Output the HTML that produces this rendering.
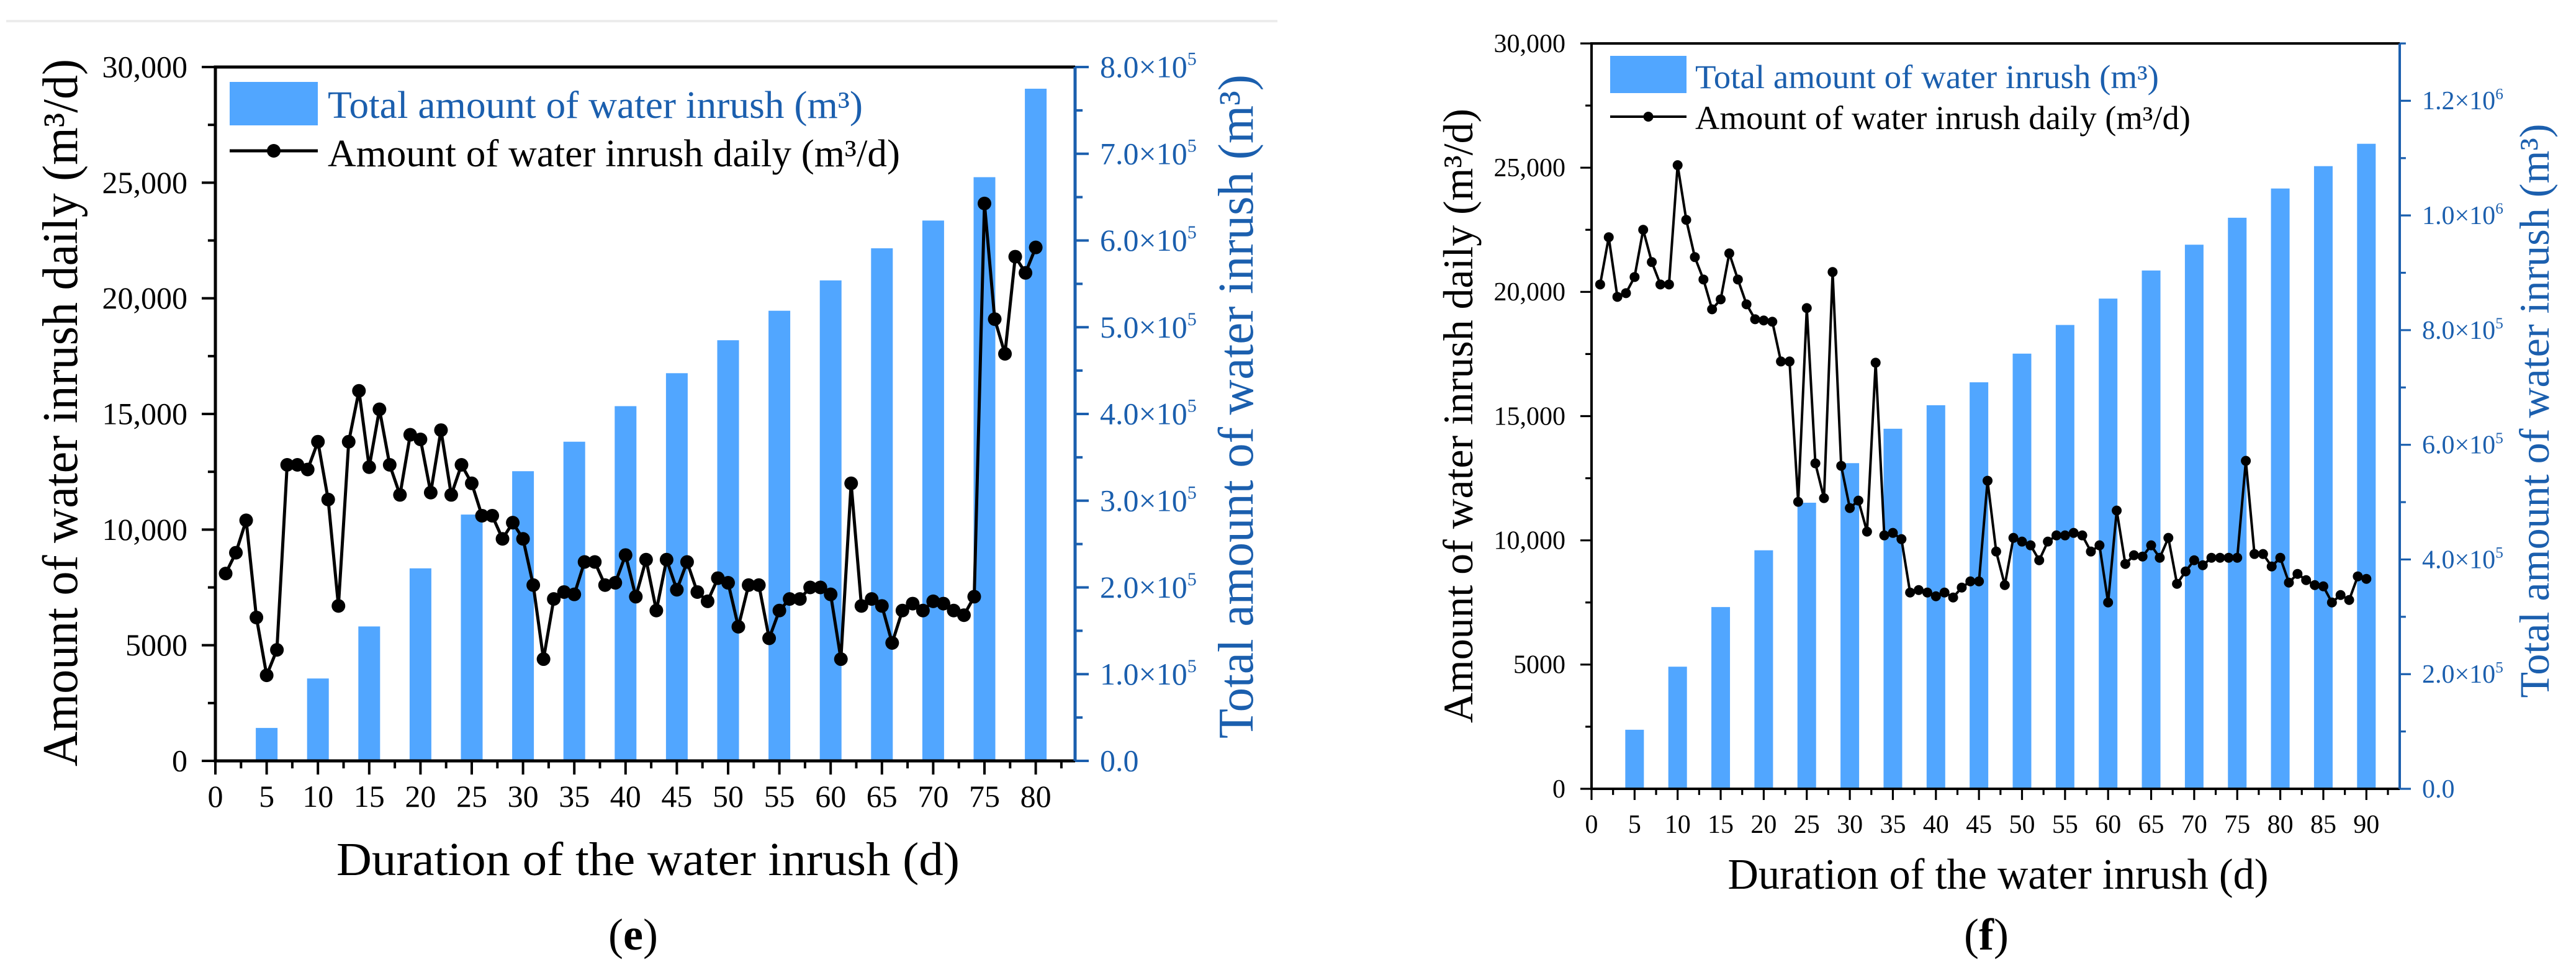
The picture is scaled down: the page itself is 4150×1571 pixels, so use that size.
<!DOCTYPE html>
<html><head><meta charset="utf-8">
<style>
html,body{margin:0;padding:0;background:#fff;}
svg{display:block;font-family:"Liberation Serif",serif;}
svg text{font-family:"Liberation Serif",serif;}
</style></head>
<body>
<svg id="root" width="4150" height="1571" viewBox="0 0 4150 1571" xmlns="http://www.w3.org/2000/svg" font-family="Liberation Serif, serif">
<line x1="10" y1="34" x2="2058" y2="34" stroke="#ececec" stroke-width="4"/>
</svg>
<script>
// ---- Chart (e) data ----
const eDaily = [8100,9000,10400,6200,3700,4800,12800,12800,12600,13800,11300,6700,13800,16000,12700,15200,12800,11500,14100,13900,11600,14300,11500,12800,12000,10600,10600,9600,10300,9600,7600,4400,7000,7300,7200,8600,8600,7600,7700,8900,7100,8700,6500,8700,7400,8600,7300,6900,7900,7700,5800,7600,7600,5300,6500,7000,7000,7500,7500,7200,4400,12000,6700,7000,6700,5100,6500,6800,6500,6900,6800,6500,6300,7100,24100,19100,17600,21800,21100,22200];
const eBarDays = [5,10,15,20,25,30,35,40,45,50,55,60,65,70,75,80];
const eBarTotals = [38000,95000,155000,222000,284000,334000,368000,409000,447000,485000,519000,554000,591000,623000,673000,775000];
const eXTicks = [0,5,10,15,20,25,30,35,40,45,50,55,60,65,70,75,80];
const eYTicks = [0,5000,10000,15000,20000,25000,30000];
const eYLabels = ["0","5000","10,000","15,000","20,000","25,000","30,000"];
const eRTicks = [0,1,2,3,4,5,6,7,8];
const eRLabels = ["0.0","1.0","2.0","3.0","4.0","5.0","6.0","7.0","8.0"];
const eRExp = ["","5","5","5","5","5","5","5","5"];
// ---- Chart (f) data ----
const fDaily = [20300,22200,19800,19950,20600,22500,21200,20300,20300,25100,22900,21400,20500,19300,19700,21550,20500,19500,18900,18850,18800,17200,17200,11550,19350,13100,11700,20800,13000,11300,11600,10350,17150,10200,10300,10050,7900,8000,7900,7750,7900,7700,8100,8350,8350,12400,9550,8200,10100,9950,9800,9200,9950,10200,10200,10300,10200,9550,9800,7500,11200,9050,9400,9350,9800,9300,10100,8250,8750,9200,9000,9300,9300,9300,9300,13200,9450,9450,8950,9300,8300,8650,8400,8200,8150,7500,7800,7600,8550,8450];
const fBarDays = [5,10,15,20,25,30,35,40,45,50,55,60,65,70,75,80,85,90];
const fBarTotals = [103000,213000,317000,416000,499000,568000,628000,669000,709000,759000,809000,855000,904000,949000,996000,1047000,1086000,1125000];
const fXTicks = [0,5,10,15,20,25,30,35,40,45,50,55,60,65,70,75,80,85,90];
const fYTicks = [0,5000,10000,15000,20000,25000,30000];
const fYLabels = ["0","5000","10,000","15,000","20,000","25,000","30,000"];
const fRTicks = [0,2,4,6,8,10,12];
const fRLabels = ["0.0","2.0","4.0","6.0","8.0","1.0","1.2"];
const fRExp = ["","5","5","5","5","6","6"];

const NS = "http://www.w3.org/2000/svg";
const FONT = '"Liberation Serif", serif';
const root = document.getElementById('root');
function mk(tag, attrs, parent){
  const el = document.createElementNS(NS, tag);
  for (const k in attrs) el.setAttribute(k, attrs[k]);
  if (tag === 'text') el.style.fontFamily = FONT;
  (parent||root).appendChild(el);
  return el;
}

function drawChart(c){
  const g = mk('g', {});
  
  
  const xs = d => c.x0 + d * c.dx;
  const yl = v => c.yb - (v / c.yMax) * (c.yb - c.yt);
  const yr = v => c.yb - (v / c.rMax) * (c.yb - c.yt);
  const BLUE = '#1b5fae', BAR = '#51a6ff';
  c.barDays.forEach((d, i) => {
    const y = yr(c.barTotals[i]);
    const r = mk('rect', {x: xs(d) - c.bw/2, y: y, width: c.bw, height: c.yb - y, fill: BAR}, g);
    
    
  });
  const ax = mk('g', {}, g);
  
  
  mk('line', {x1: c.x0, y1: c.yt, x2: c.x0, y2: c.yb, stroke: '#000', 'stroke-width': c.aw}, ax);
  mk('line', {x1: c.x0 - c.aw/2, y1: c.yb, x2: c.xr, y2: c.yb, stroke: '#000', 'stroke-width': c.aw}, ax);
  mk('line', {x1: c.x0 - c.aw/2, y1: c.yt, x2: c.xr, y2: c.yt, stroke: '#000', 'stroke-width': c.aw}, ax);
  mk('line', {x1: c.xr, y1: c.yt, x2: c.xr, y2: c.yb, stroke: BLUE, 'stroke-width': c.aw}, ax);
  for (let d = 0; d <= c.xMaxTick + 0.1; d += 2.5) {
    const maj = Math.abs(d % 5) < 0.01;
    mk('line', {x1: xs(d), y1: c.yb, x2: xs(d), y2: c.yb + (maj ? c.tl : c.tl*0.55), stroke: '#000', 'stroke-width': c.aw*0.8}, ax);
  }
  c.xTicks.forEach(d => {
    const t = mk('text', {x: xs(d), y: c.xLabY, 'text-anchor': 'middle', 'font-size': c.tfs, fill: '#000'}, ax);
    t.textContent = d;
    
    
  });
  for (let v = 0; v <= c.yMax; v += 2500) {
    const maj = v % 5000 === 0;
    mk('line', {x1: c.x0, y1: yl(v), x2: c.x0 - (maj ? c.tl : c.tl*0.55), y2: yl(v), stroke: '#000', 'stroke-width': c.aw*0.8}, ax);
  }
  c.yTicks.forEach((v, i) => {
    const t = mk('text', {x: c.yLabX, y: yl(v) + c.tfs*0.33, 'text-anchor': 'end', 'font-size': c.tfs, fill: '#000'}, ax);
    t.textContent = c.yLabels[i];
    
    
  });
  for (let k = 0; k <= c.rMinorMax; k++) {
    const v = k * c.rMinor;
    if (v > c.rMax) break;
    const maj = k % 2 === 0;
    mk('line', {x1: c.xr, y1: yr(v), x2: c.xr + (maj ? c.tl : c.tl*0.55), y2: yr(v), stroke: BLUE, 'stroke-width': c.aw*0.8}, ax);
  }
  c.rTicks.forEach((k, i) => {
    const v = k * 1e5;
    const t = mk('text', {x: c.rLabX, y: yr(v) + c.tfs*0.33, 'font-size': c.tfs, fill: BLUE}, ax);
    
    
    if (c.rExp[i]) {
      t.appendChild(document.createTextNode(c.rLabels[i] + '\u00d710'));
      const s = mk('tspan', {dy: -c.tfs*0.4, 'font-size': c.tfs*0.6}, t);
      s.textContent = c.rExp[i];
    } else {
      t.textContent = c.rLabels[i];
    }
  });
  const pts = c.daily.map((v, i) => xs(i + 1).toFixed(1) + ',' + yl(v).toFixed(1)).join(' ');
  const pl = mk('polyline', {points: pts, fill: 'none', stroke: '#000', 'stroke-width': c.lw, 'stroke-linejoin': 'round'}, g);
  
  
  c.daily.forEach((v, i) => {
    const p = mk('circle', {cx: xs(i + 1), cy: yl(v), r: c.dr, fill: '#000'}, g);
    
    
  });
  const lt = mk('text', {x: 0, y: 0, transform: `translate(${c.ltX},${c.ltY}) rotate(-90)`, 'text-anchor': 'middle', 'font-size': c.lfs, fill: '#000', textLength: c.ltLen, lengthAdjust: 'spacingAndGlyphs'}, g);
  lt.textContent = 'Amount of water inrush daily (m\u00b3/d)';
  
  
  const rt = mk('text', {x: 0, y: 0, transform: `translate(${c.rtX},${c.rtY}) rotate(-90)`, 'text-anchor': 'middle', 'font-size': c.lfs, fill: BLUE, textLength: c.rtLen, lengthAdjust: 'spacingAndGlyphs'}, g);
  rt.textContent = 'Total amount of water inrush (m\u00b3)';
  
  
  const xt = mk('text', {x: c.xtX, y: c.xtY, 'text-anchor': 'middle', 'font-size': c.xfs, fill: '#000', textLength: c.xtLen, lengthAdjust: 'spacingAndGlyphs'}, g);
  xt.textContent = 'Duration of the water inrush (d)';
  
  
  const pn = mk('text', {x: c.pX, y: c.pY, 'text-anchor': 'middle', 'font-size': 72, fill: '#000'}, g);
  
  
  pn.appendChild(document.createTextNode('('));
  const b = mk('tspan', {'font-weight': 'bold'}, pn); b.textContent = c.id;
  pn.appendChild(document.createTextNode(')'));
  const lg = mk('g', {}, g);
  
  
  const lr = mk('rect', {x: c.lgX, y: c.lgY1, width: c.lgW, height: c.lgH, fill: BAR}, lg);
  
  
  const l1 = mk('text', {x: c.lgTX, y: c.lgB1, 'font-size': c.gfs, fill: BLUE, textLength: c.lgL1, lengthAdjust: 'spacingAndGlyphs'}, lg);
  l1.textContent = 'Total amount of water inrush (m\u00b3)';
  
  
  mk('line', {x1: c.lgX, y1: c.lgY2, x2: c.lgX + c.lgW, y2: c.lgY2, stroke: '#000', 'stroke-width': c.lw}, lg);
  mk('circle', {cx: c.lgX + c.lgW/2, cy: c.lgY2, r: c.dr, fill: '#000'}, lg);
  const l2 = mk('text', {x: c.lgTX, y: c.lgB2, 'font-size': c.gfs, fill: '#000', textLength: c.lgL2, lengthAdjust: 'spacingAndGlyphs'}, lg);
  l2.textContent = 'Amount of water inrush daily (m\u00b3/d)';
  
  
}

drawChart({id:'e', daily:eDaily, barDays:eBarDays, barTotals:eBarTotals, xTicks:eXTicks, yTicks:eYTicks, yLabels:eYLabels, rTicks:eRTicks, rLabels:eRLabels, rExp:eRExp,
  x0:347, xr:1732, dx:16.52, xMaxTick:82.5, yt:108, yb:1226, yMax:30000, rMax:800000, rMinor:50000, rMinorMax:16,
  bw:35, aw:5, tl:22, lw:5, dr:11, tfs:50, xLabY:1300, yLabX:302, rLabX:1772,
  lfs:80, ltX:124, ltY:665, ltLen:1140, rtX:2018, rtY:655, rtLen:1070, xfs:76, xtX:1044, xtY:1410, xtLen:1004, pX:1020, pY:1530,
  lgX:370, lgW:142, lgY1:132, lgH:70, lgY2:243, lgTX:528, lgB1:190, lgB2:268, lgL1:862, lgL2:922, gfs:62});
drawChart({id:'f', daily:fDaily, barDays:fBarDays, barTotals:fBarTotals, xTicks:fXTicks, yTicks:fYTicks, yLabels:fYLabels, rTicks:fRTicks, rLabels:fRLabels, rExp:fRExp,
  x0:2564, xr:3866, dx:13.87, xMaxTick:92.5, yt:70, yb:1271, yMax:30000, rMax:1300000, rMinor:100000, rMinorMax:13,
  bw:30, aw:4, tl:18, lw:4, dr:8, tfs:42, xLabY:1342, yLabX:2522, rLabX:3902,
  lfs:68, ltX:2372, ltY:670, ltLen:990, rtX:4106, rtY:662, rtLen:925, xfs:70, xtX:3219, xtY:1432, xtLen:871, pX:3200, pY:1530,
  lgX:2594, lgW:123, lgY1:90, lgH:60, lgY2:188, lgTX:2731, lgB1:142, lgB2:208, lgL1:747, lgL2:798, gfs:54});
</script>
</body></html>
